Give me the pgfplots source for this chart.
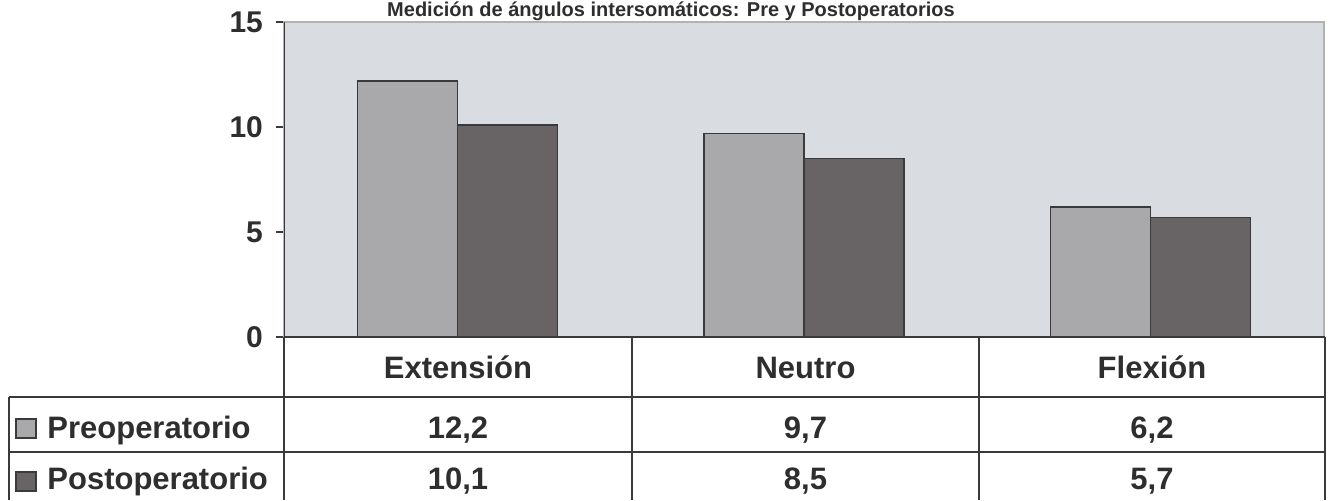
\documentclass[border=0pt]{standalone}
\usepackage{pgfplots}
\pgfplotsset{compat=1.18}
\usepackage{fontspec}
\setmainfont{Liberation Sans}
\definecolor{bg}{HTML}{D9DCE1}
\definecolor{pre}{HTML}{A9A9AB}
\definecolor{post}{HTML}{686365}
\definecolor{ln}{HTML}{3A3A3A}
\definecolor{txt}{HTML}{2E2E2E}
\begin{document}
\begin{tikzpicture}
\useasboundingbox (0,0) rectangle (665pt,-250pt);
\begin{axis}[
  at={(142pt,-168.5pt)}, anchor=south west,
  width=520pt, height=157.5pt, scale only axis,
  xmin=-0.5, xmax=2.5, ymin=0, ymax=15,
  ytick={0,5,10,15}, xtick=\empty,
  ybar=0pt, bar width=50pt,
  axis background/.style={fill=bg},
  axis line style={draw=gray!60, line width=0.6pt},
  y tick style={draw=ln, line width=0.8pt},
  tick align=outside, major tick length=4pt, ytick pos=left,
  yticklabel style={font=\fontsize{15}{15}\selectfont\bfseries, text=txt, xshift=-3pt},
  /pgf/number format/assume math mode=true,
]
\addplot[draw=ln, line width=0.7pt, fill=pre] coordinates {(0,12.2) (1,9.7) (2,6.2)};
\addplot[draw=ln, line width=0.7pt, fill=post] coordinates {(0,10.1) (1,8.5) (2,5.7)};
\draw[ln, line width=0.8pt] (axis cs:-0.5,0) -- (axis cs:-0.5,15);
\end{axis}
\begin{scope}[x=0.5pt,y=-0.5pt]
\node[anchor=base, font=\fontsize{10}{11}\selectfont\bfseries, text=txt, inner sep=0pt] at (671,16.5) {Medición de ángulos intersomáticos: Pre y Postoperatorios};
\draw[ln, line width=0.8pt] (284,337) -- (1325,337);
\draw[ln, line width=0.8pt] (9,397) -- (1325,397);
\draw[ln, line width=0.8pt] (9,452) -- (1325,452);
\draw[ln, line width=0.8pt] (9,397) -- (9,500);
\draw[ln, line width=0.8pt] (284,337) -- (284,500);
\draw[ln, line width=0.8pt] (632,337) -- (632,500);
\draw[ln, line width=0.8pt] (979,337) -- (979,500);
\draw[ln, line width=0.8pt] (1325,337) -- (1325,500);
\begin{scope}[every node/.style={anchor=base, inner sep=0pt, text=txt, font=\fontsize{15.5}{16}\selectfont\bfseries}]
\node at (458,378) {Extensión};
\node at (805.5,378) {Neutro};
\node at (1152,378) {Flexión};
\node at (458,438) {12,2};
\node at (805.5,438) {9,7};
\node at (1152,438) {6,2};
\node at (458,489) {10,1};
\node at (805.5,489) {8,5};
\node at (1152,489) {5,7};
\node[anchor=base west] at (47,438) {Preoperatorio};
\node[anchor=base west] at (47,489) {Postoperatorio};
\end{scope}
\draw[ln, line width=0.6pt, fill=pre] (16,419) rectangle (36,438);
\draw[ln, line width=0.6pt, fill=post] (16,472) rectangle (36,491);
\end{scope}
\end{tikzpicture}
\end{document}
